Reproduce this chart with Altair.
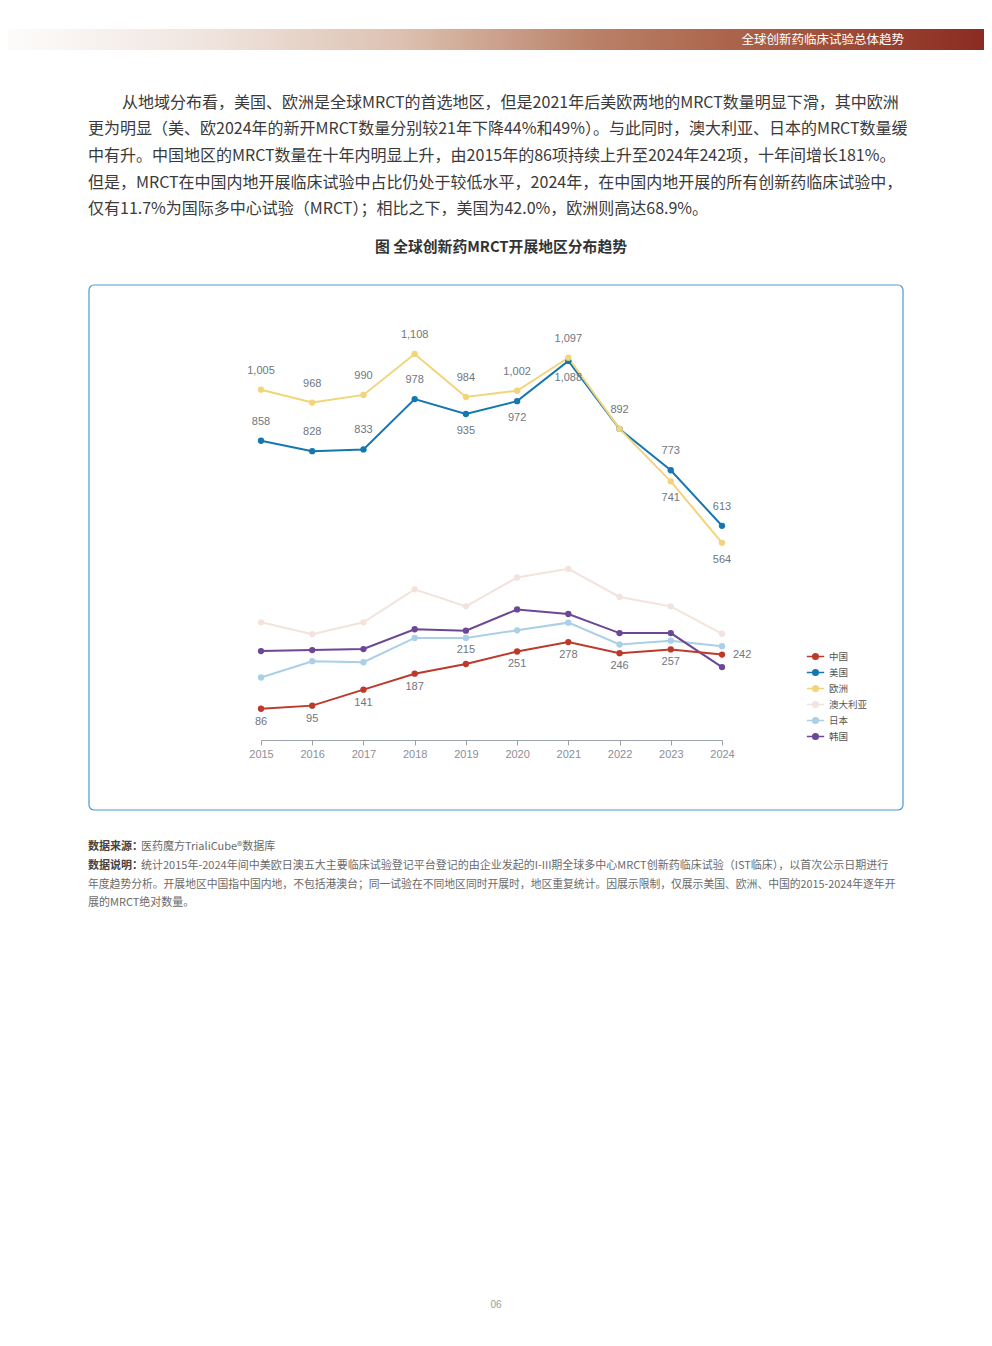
import altair as alt
import pandas as pd

# ---------------- data ----------------
years = [2015, 2016, 2017, 2018, 2019, 2020, 2021, 2022, 2023, 2024]
china = [86, 95, 141, 187, 215, 251, 278, 246, 257, 242]
usa = [858, 828, 833, 978, 935, 972, 1088, 892, 773, 613]
europe = [1005, 968, 990, 1108, 984, 1002, 1097, 892, 741, 564]
australia = [335, 301, 335, 430, 381, 464, 489, 408, 381, 302]
japan = [176, 223, 220, 290, 290, 312, 334, 271, 282, 266]
korea = [252, 255, 258, 315, 311, 372, 359, 304, 304, 206]

series_names = ["中国", "美国", "欧洲", "澳大利亚", "日本", "韩国"]
series_colors = ["#bd3a2b", "#1677b0", "#f2d47a", "#f3e3dc", "#a9d0e6", "#6c4796"]

# where each value label sits relative to its point (None = no label)
china_label_place = ["below_s", "below_s", "below_s", "below_s", "above_s",
                     "below_s", "below_s", "below_s", "below_s", "right"]
usa_label_place = ["above", "above", "above", "above", "below",
                   "below", "below", None, "above", "above"]
europe_label_place = ["above", "above", "above", "above", "above",
                      "above", "above", "above", "below", "below"]

paragraph = [
    "从地域分布看，美国、欧洲是全球MRCT的首选地区，但是2021年后美欧两地的MRCT数量明显下滑，其中欧洲",
    "更为明显（美、欧2024年的新开MRCT数量分别较21年下降44%和49%）。与此同时，澳大利亚、日本的MRCT数量缓",
    "中有升。中国地区的MRCT数量在十年内明显上升，由2015年的86项持续上升至2024年242项，十年间增长181%。",
    "但是，MRCT在中国内地开展临床试验中占比仍处于较低水平，2024年，在中国内地开展的所有创新药临床试验中，",
    "仅有11.7%为国际多中心试验（MRCT）；相比之下，美国为42.0%，欧洲则高达68.9%。",
]
header_text = "全球创新药临床试验总体趋势"
chart_title = "图 全球创新药MRCT开展地区分布趋势"
note_bold = ["数据来源：", "数据说明："]
note_lines = [
    "医药魔方TrialiCube®数据库",
    "统计2015年-2024年间中美欧日澳五大主要临床试验登记平台登记的由企业发起的I-III期全球多中心MRCT创新药临床试验（IST临床），以首次公示日期进行",
    "年度趋势分析。开展地区中国指中国内地，不包括港澳台；同一试验在不同地区同时开展时，地区重复统计。因展示限制，仅展示美国、欧洲、中国的2015-2024年逐年开",
    "展的MRCT绝对数量。",
]
page_number = "06"

# ---------------- tables ----------------
draw_order = ["澳大利亚", "日本", "韩国", "中国", "美国", "欧洲"]
values_by_series = {"中国": china, "美国": usa, "欧洲": europe,
                    "澳大利亚": australia, "日本": japan, "韩国": korea}
rows = []
for s in draw_order:
    for y, v in zip(years, values_by_series[s]):
        rows.append({"year": y, "series": s, "value": v})
df = pd.DataFrame(rows)

label_rows = []
for s, place in [("中国", china_label_place), ("美国", usa_label_place), ("欧洲", europe_label_place)]:
    for y, v, p in zip(years, values_by_series[s], place):
        if p is not None:
            label_rows.append({"year": y, "series": s, "value": v, "place": p})
labels = pd.DataFrame(label_rows)

# ---------------- page geometry (relative to plot origin) ----------------
OX, OY = 261, 322  # page position of plot origin
W, H = 461, 418


def px(x):
    return x - OX


def py(y):
    return y - OY


CJK = "Noto Sans CJK SC"
NUM = "Liberation Sans"

legend_path = "M-1,0L1,0M0.32,0A0.32,0.32,0,1,1,-0.32,0A0.32,0.32,0,1,1,0.32,0Z"


def make_legend():
    return alt.Legend(
        title=None,
        orient="none",
        legendX=px(806),
        legendY=py(647),
        symbolType=legend_path,
        symbolSize=300,
        symbolStrokeWidth=1.6,
        labelFont=CJK,
        labelFontSize=9.5,
        labelColor="#555555",
        labelOffset=4,
        rowPadding=0,
    )


color_scale = alt.Scale(domain=series_names, range=series_colors)

x_enc = alt.X(
    "year:Q",
    scale=alt.Scale(domain=[2015, 2024], nice=False, zero=False),
    axis=alt.Axis(
        title=None, values=years, format="d", grid=False,
        domainColor="#9aa2aa", tickColor="#9aa2aa", tickSize=5,
        labelFont=NUM, labelFontSize=11, labelColor="#8a8f98", labelPadding=3,
        labelFlush=False, labelOverlap=False,
    ),
)
y_enc = alt.Y("value:Q", scale=alt.Scale(domain=[-4, 1200], nice=False, zero=False), axis=None)

base = alt.Chart(df)
lines = base.mark_line(strokeWidth=2).encode(
    x=x_enc, y=y_enc,
    color=alt.Color("series:N", scale=color_scale, legend=make_legend()),
)
points = base.mark_circle(size=40, opacity=1).encode(
    x=x_enc, y=y_enc,
    fill=alt.Fill("series:N", scale=color_scale, legend=make_legend()),
)

lab_base = alt.Chart(labels).encode(
    x=alt.X("year:Q", scale=alt.Scale(domain=[2015, 2024], nice=False, zero=False)),
    y=alt.Y("value:Q", scale=alt.Scale(domain=[-4, 1200], nice=False, zero=False)),
    text=alt.Text("value:Q", format=","),
)
lab_style = dict(font=NUM, fontSize=11, color="#6f7680")
label_layers = [
    lab_base.mark_text(dy=-19, **lab_style).transform_filter(alt.datum.place == "above"),
    lab_base.mark_text(dy=17, **lab_style).transform_filter(alt.datum.place == "below"),
    lab_base.mark_text(dy=-14, **lab_style).transform_filter(alt.datum.place == "above_s"),
    lab_base.mark_text(dy=13, **lab_style).transform_filter(alt.datum.place == "below_s"),
    lab_base.mark_text(dx=11, align="left", **lab_style).transform_filter(alt.datum.place == "right"),
]


def one():
    return alt.Chart(alt.Data(values=[{"k": 1}]))


def text_at(text, x, y, size, color="#333333", weight="normal", align="left", font=CJK):
    return one().mark_text(
        text=text, align=align, baseline="middle", fontSize=size,
        font=font, color=color, fontWeight=weight,
    ).encode(x=alt.value(px(x)), y=alt.value(py(y)))


# header bar
header = one().mark_rect(
    fill=alt.LinearGradient(
        gradient="linear", x1=0, x2=1, y1=0, y2=0,
        stops=[
            alt.GradientStop(offset=0.0, color="#fdfcfb"),
            alt.GradientStop(offset=0.2, color="#f0e5df"),
            alt.GradientStop(offset=0.4, color="#ddc2b2"),
            alt.GradientStop(offset=0.6, color="#ba8168"),
            alt.GradientStop(offset=0.8, color="#a5583f"),
            alt.GradientStop(offset=1.0, color="#8b2b22"),
        ],
    )
).encode(x=alt.value(px(8)), x2=alt.value(px(984)), y=alt.value(py(29)), y2=alt.value(py(50)))

annotations = [header, text_at(header_text, 904, 40, 12.5, color="#ffffff", align="right")]

para_y = [103, 129, 156, 183, 209]
for i, (line, yy) in enumerate(zip(paragraph, para_y)):
    annotations.append(text_at(line, 122 if i == 0 else 88, yy, 16, color="#3a3a3a"))

annotations.append(text_at(chart_title, 501, 248, 14.8, color="#333333", weight="bold", align="center"))

box = one().mark_rect(
    fillOpacity=0, stroke="#4b9bd1", strokeWidth=1.2, cornerRadius=5
).encode(x=alt.value(px(89)), x2=alt.value(px(903)), y=alt.value(py(285)), y2=alt.value(py(810)))

note_y = [847, 866, 885, 903]
annotations.append(text_at(note_bold[0], 88, note_y[0], 11, color="#444444", weight="bold"))
annotations.append(text_at(note_bold[1], 88, note_y[1], 11, color="#444444", weight="bold"))
annotations.append(text_at(note_lines[0], 141, note_y[0], 11, color="#6a6a6a"))
annotations.append(text_at(note_lines[1], 141, note_y[1], 11, color="#6a6a6a"))
annotations.append(text_at(note_lines[2], 88, note_y[2], 10.8, color="#6a6a6a"))
annotations.append(text_at(note_lines[3], 88, note_y[3], 11, color="#6a6a6a"))
annotations.append(text_at(page_number, 496, 1305, 10, color="#9a9a9a", align="center", font=NUM))

chart = alt.layer(
    box, lines, points, *label_layers, *annotations
).properties(
    width=W,
    height=H,
    autosize=alt.AutoSizeParams(type="none"),
    padding={"left": OX - 8, "top": OY - 8, "right": 976 - (OX - 8) - W, "bottom": 1330 - (OY - 8) - H},
    background="#ffffff",
).configure_view(stroke=None)

chart.save("out.html", embed_options={"renderer": "svg", "actions": False})
